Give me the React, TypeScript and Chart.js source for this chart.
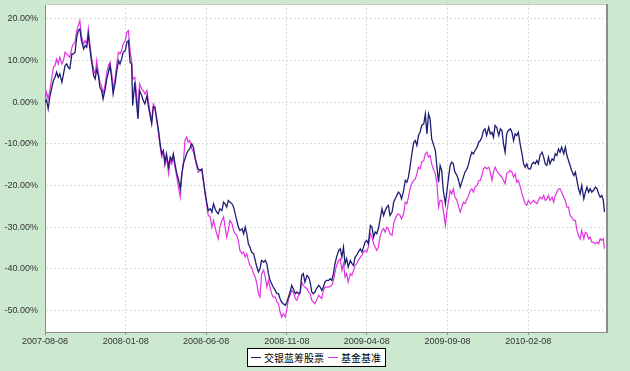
import React, { useEffect, useRef } from "react";
import { Chart, registerables } from "chart.js";

Chart.register(...registerables);

const seriesNames = ["交银蓝筹股票", "基金基准"];
const tickLabels = ["2007-08-08", "2008-01-08", "2008-06-08", "2008-11-08", "2009-04-08", "2009-09-08", "2010-02-08"];
const yTicks = [20, 10, 0, -10, -20, -30, -40, -50];

// days since 2007-08-08
const days = [
  0, 3, 6, 9, 13, 16, 19, 22, 25, 28, 32, 35, 38, 41, 44, 47, 51, 54, 57, 60, 63, 66, 69, 73, 76, 79, 82, 85, 88, 92,
  95, 98, 101, 104, 107, 110, 114, 117, 120, 123, 126, 129, 133, 136, 139, 142, 145, 148, 152, 155, 158, 161, 164,
  166, 170, 174, 176, 179, 183, 186, 189, 193, 196, 199, 202, 205, 208, 211, 215, 218, 221, 224, 227, 230, 234, 237,
  240, 243, 246, 249, 253, 256, 259, 262, 265, 268, 271, 274,
  278, 281, 284, 287, 290, 294, 297, 300, 303, 306, 309, 313, 316, 319, 322, 325, 328, 331, 335, 338, 341, 344, 347,
  350, 354, 357, 360, 363, 366, 369, 373, 376, 379, 382, 385, 388, 391, 395, 398, 401, 404, 407, 410, 414, 417, 420,
  423, 426, 429, 432, 436, 439, 442, 445, 448, 451, 455, 458, 461, 464, 467, 470, 474, 477, 480, 483,
  486, 489, 492, 496, 499, 502, 505, 508, 511, 514, 518, 521, 524, 527, 530, 533, 537, 540, 543, 546, 549, 552, 556,
  559, 562, 565, 568, 571, 574, 578, 581, 584, 587, 590, 593, 597, 600, 603, 606, 609, 612, 616, 619, 622, 625, 628,
  631, 634, 638, 641, 644, 647, 650, 653, 657, 660, 663, 666, 669, 672, 675, 679, 682, 685, 688, 691, 694, 698, 701,
  704, 707, 710, 713, 717, 720, 723, 726, 729, 732, 735, 739, 742, 745, 748,
  751, 754, 758, 761, 764, 767, 770, 773, 776, 780, 783, 786, 789, 792, 795, 799, 802, 805, 808, 811, 814, 818, 821,
  824, 827, 830, 833, 836, 840, 843, 846, 849, 852, 855, 859, 862, 865, 868, 871, 874, 877, 881,
  884, 887, 890, 893, 896, 900, 903, 906, 909, 912, 915, 919, 922, 925, 928, 931, 934, 937, 941, 944, 947, 950, 953,
  956, 960, 963, 966, 969, 972, 975, 978, 982, 985, 988, 991, 994, 997, 1001, 1004, 1007, 1010, 1013, 1016, 1020,
  1023, 1026, 1029, 1032, 1035, 1038, 1042, 1045, 1048, 1051, 1054, 1057, 1059,
];

const fundValues = [
  0, 0.5, -1.6, 1.2, 3.6, 5.2, 6, 7.2, 6, 6.8, 4.8, 6.8, 8.8, 9.2, 8.4, 8, 11.6, 11.6, 12, 15.6, 17.2, 17.6, 14.8,
  12.8, 13.6, 13.2, 16.4, 12.8, 10, 6.4, 5.6, 8, 6.4, 3.6, 2.8, 0.8, 3.2, 5.6, 7.2, 8.8, 6, 2, 4.8, 7.6, 10, 9.2,
  10.4, 12, 12.4, 14.4, 14.8, 9.6, 9.2, -0.8, 4.8, -1.2, -4, 2.8, 1.6, 0.4, -0.4, 1.6, -1.2, -3.2, -5.2, -1.2, -1.2,
  -3.6, -6.8, -10, -12.4, -11.6, -14.4, -12.4, -15.6, -13.2, -14, -12.4, -14.8, -16.8, -18.8, -20.8, -17.2, -14.8,
  -13.6, -12.4, -11.6, -11.2,
  -10, -10.8, -13.2, -14.8, -16, -16.4, -16, -18.8, -21.6, -24, -26, -25.6, -26.4, -24.4, -25.6, -26.4, -26.8, -25.6,
  -26, -24, -24.4, -25.2, -23.6, -24, -24.4, -25.2, -26.8, -28.4, -30, -30.8, -30.4, -31.6, -30, -31.6, -34, -34.8,
  -36, -36.4, -38, -39.6, -40.8, -40, -38, -38.4, -38, -38.8, -41.2, -42.8, -43.6, -44.4, -45.2, -46, -46, -47.2,
  -48, -48.4, -48.8, -48, -46.8, -45.6, -44, -44.8, -46, -45.6, -46, -45.6,
  -41.6, -41.2, -43.2, -41.6, -42, -43.2, -45.6, -46, -45.6, -44.8, -44, -44.4, -45.2, -44.4, -43.2, -42.8, -42.8,
  -42.4, -42.8, -41.2, -38.8, -37.2, -35.6, -35.2, -37.2, -34.8, -38.8, -37.6, -39.6, -38, -38.8, -39.2, -37.2,
  -36.8, -36, -35.2, -36, -34.8, -33.6, -33.2, -34, -29.6, -30, -32.4, -31.2, -31.6, -30.4, -28.4, -25.6, -27.2,
  -26, -25.2, -24.8, -27.2, -26.4, -24, -23.2, -22.4, -21.6, -22, -23.2, -21.2, -18.8, -19.2, -18, -15.6, -12.8,
  -9.6, -9.2, -10.4, -8, -7.2, -5.6, -5.2, -2.8, -7.6, -2.8, -4, -8.8, -10, -11.6, -15.6, -19.2, -15.2,
  -16.4, -21.2, -24.4, -21.2, -18, -15.2, -14.4, -14.8, -16.8, -17.6, -18.8, -20.4, -19.2, -18, -16.8, -16, -14.8,
  -13.2, -12, -12.4, -11.6, -10.8, -9.6, -9.2, -8.4, -6.8, -6.4, -8, -6, -7.6, -7.2, -8.4, -5.6, -6, -8, -6.4, -6.8,
  -10, -12, -7.6, -6.8, -6.4,
  -7.2, -9.2, -7.6, -8, -7.2, -10.4, -12.4, -14.8, -15.6, -14.8, -16, -16, -14.8, -14.4, -14.8, -14, -14.8, -12.8,
  -12, -13.2, -14.8, -15.2, -13.2, -14.8, -13.6, -14, -12.4, -12.8, -11.2, -12, -10.8, -12.4, -10.8, -12.8, -14,
  -15.2, -16.4, -17.6, -16.8, -18.8, -20.8, -22, -20, -23.2, -21.6, -20.4, -21.6, -20.8, -21.6, -21.2, -20.4, -20.8,
  -22, -22.8, -22.4, -23.6, -26.4,
];

const benchmarkValues = [
  0, 2.4, 0.8, 2.8, 6, 8.4, 8.8, 10.4, 9.2, 10.8, 9.2, 10, 12, 11.6, 11.2, 10.8, 13.2, 14, 14.4, 17.2, 18.4, 19.6, 16,
  14, 14.8, 14, 17.6, 14, 10.8, 8, 6.8, 10, 7.2, 4.8, 4, 2, 4.4, 7.2, 8.8, 9.6, 7.2, 3.2, 6, 9.2, 12, 11.6, 12.4, 14,
  14.8, 16.8, 17.2, 12.4, 10, 5.5, 6, 1.2, -2, 4.4, 3.2, 2.8, 2, 2.8, 0, -2.4, -4.4, -0.4, -1.2, -4, -7.6, -10.8,
  -13.2, -12, -15.2, -13.2, -17.2, -14, -14.8, -13.2, -15.6, -17.6, -20.8, -22.8, -17.6, -14.4, -9.2, -8.4, -9.6, -9.2,
  -11.2, -12, -13.6, -15.2, -16.8, -16.4, -16.4, -19.2, -22, -24.4, -27.2, -27.6, -30, -28.4, -30, -31.6, -32.8, -30,
  -28.4, -27.6, -30, -32.4, -30.8, -28.4, -29.2, -30.8, -31.6, -32, -33.2, -35.6, -36.4, -36, -37.2, -36.4, -38,
  -39.2, -39.6, -41.2, -42, -43.6, -46, -46.8, -41.2, -40.4, -42, -44.4, -42.8, -44.4, -46, -46.8, -46.8, -48, -48.4,
  -50.4, -51.6, -50.8, -51.6, -49.6, -47.2, -46.4, -45.2, -45.6, -47.2, -47.6, -46.4, -46,
  -43.2, -44, -44.4, -44.8, -45.6, -46, -47.6, -48, -48.4, -47.6, -46.4, -46.8, -47.2, -45.2, -44.4, -44.4, -44.4,
  -44.2, -44, -42.8, -40.8, -39.2, -38, -37.6, -40.4, -38.8, -42, -41.2, -43.2, -41.2, -41.6, -40.4, -39.2, -38.8,
  -38, -37.2, -36.8, -36, -35.6, -36, -34.8, -31.6, -32.4, -34, -34.8, -35.6, -34.8, -32.4, -30.8, -30.4, -31.2, -30,
  -30.4, -31.6, -32, -29.2, -28, -27.2, -26.8, -27.2, -28, -26.8, -24, -24.4, -22.8, -20.8, -19.6, -18.8, -18.4,
  -17.2, -15.6, -16, -14.4, -14, -12.4, -12, -13.2, -12.8, -14.8, -16, -17.2, -19.6, -25.2, -23.6,
  -23.6, -26, -29.6, -26, -23.6, -21.2, -22, -20.8, -22.8, -23.6, -25.2, -26.4, -25.2, -24, -24.4, -23.2, -22.4,
  -21.2, -20.8, -21.6, -20.4, -20, -18.8, -18.8, -17.6, -16, -15.6, -16, -15.6, -16.8, -18.8, -16.8, -15.6, -16.4,
  -17.2, -17.6, -18, -18.8, -19.6, -17.2, -16.8, -16.4,
  -16.8, -18, -17.2, -19.2, -18.8, -20.4, -22, -23.2, -24.4, -24.8, -23.6, -24.4, -24, -23.6, -24, -24.4, -23.6,
  -22.8, -23.2, -22.4, -23.6, -23.2, -22.4, -23.6, -22.8, -24, -22.4, -21.6, -20.8, -20.8, -21.6, -22.8, -23.6,
  -25.2, -25.2, -27.2, -27.6, -28.4, -28.4, -30.8, -32, -32.8, -30.8, -32.8, -31.2, -31.6, -32.8, -32.4, -33.6,
  -33.6, -34, -33.6, -34, -32.8, -33.2, -32.8, -35.2,
];

const seriesColors = ["#1e1e72", "#e233e2"];

const dayOf = (s: string) =>
  (Date.UTC(+s.slice(0, 4), +s.slice(5, 7) - 1, +s.slice(8, 10)) - Date.UTC(2007, 7, 8)) / 86400000;

const GREEN = "#cce8cf";

const framePlugin = {
  id: "frame",
  beforeDraw(chart: any) {
    const { ctx, chartArea: a, width, height } = chart;
    ctx.save();
    ctx.fillStyle = GREEN;
    ctx.fillRect(0, 0, width, height);
    ctx.fillStyle = "#ffffff";
    ctx.fillRect(a.left, a.top, a.right - a.left, a.bottom - a.top);
    ctx.restore();
  },
  afterDraw(chart: any) {
    const { ctx, chartArea: a } = chart;
    ctx.save();
    ctx.strokeStyle = "#c8c8c8";
    ctx.lineWidth = 1;
    ctx.beginPath();
    ctx.moveTo(a.left, a.top + 0.5);
    ctx.lineTo(a.right, a.top + 0.5);
    ctx.stroke();
    ctx.strokeStyle = "#8c8c8c";
    ctx.lineWidth = 2;
    ctx.beginPath();
    ctx.moveTo(a.right + 1, a.top);
    ctx.lineTo(a.right + 1, a.bottom + 1);
    ctx.stroke();
    ctx.restore();
  },
};

export default function App() {
  const ref = useRef<HTMLCanvasElement | null>(null);

  useEffect(() => {
    if (!ref.current) return;
    const mk = (vals: number[]) => {
      const n = Math.min(days.length, vals.length);
      const out: { x: number; y: number }[] = [];
      for (let i = 0; i < n; i++) out.push({ x: days[i], y: vals[i] });
      return out;
    };
    const tickFont = { family: "'Liberation Sans', Arial, sans-serif", size: 9 };
    const chart = new Chart(ref.current, {
      type: "line",
      data: {
        datasets: [
          {
            label: seriesNames[0],
            data: mk(fundValues),
            borderColor: seriesColors[0],
            backgroundColor: seriesColors[0],
            borderWidth: 1.3,
            pointRadius: 0,
            tension: 0,
          },
          {
            label: seriesNames[1],
            data: mk(benchmarkValues),
            borderColor: seriesColors[1],
            backgroundColor: seriesColors[1],
            borderWidth: 1.2,
            pointRadius: 0,
            tension: 0,
          },
        ],
      },
      options: {
        animation: false,
        responsive: false,
        devicePixelRatio: 1,
        layout: { padding: { top: 4, right: 24, left: 0, bottom: 0 } },
        plugins: { legend: { display: false }, tooltip: { enabled: false } },
        scales: {
          x: {
            type: "linear",
            min: 0,
            max: 1062,
            afterBuildTicks: (s: any) => {
              s.ticks = tickLabels.map((l) => ({ value: dayOf(l) }));
            },
            afterFit: (s: any) => {
              s.height = 39;
              s.paddingLeft = 0;
              s.paddingRight = 0;
            },
            ticks: {
              autoSkip: false,
              maxRotation: 0,
              padding: 1,
              color: "#333333",
              font: tickFont,
              callback: (v: any) => {
                const l = tickLabels.find((t) => dayOf(t) === v);
                return l ?? "";
              },
            },
            grid: {
              color: "#d9d9d9",
              tickLength: 3,
              tickColor: "#8c8c8c",
              tickBorderDash: [],
            },
            border: { display: true, color: "#8c8c8c", width: 1, dash: [2, 2] },
          },
          y: {
            type: "linear",
            min: -55.2,
            max: 23.6,
            afterBuildTicks: (s: any) => {
              s.ticks = yTicks.map((v) => ({ value: v }));
            },
            afterFit: (s: any) => {
              s.width = 45;
              s.paddingTop = 0;
              s.paddingBottom = 0;
            },
            ticks: {
              padding: 7,
              color: "#333333",
              font: tickFont,
              callback: (v: any) => `${Number(v).toFixed(2)}%`,
            },
            grid: { color: "#d9d9d9", drawTicks: false },
            border: { display: true, color: "#8c8c8c", width: 1, dash: [2, 2] },
          },
        },
      },
      plugins: [framePlugin],
    } as any);
    return () => chart.destroy();
  }, []);

  const legendItem = (name: string, color: string) => (
    <span style={{ display: "inline-flex", alignItems: "center", marginRight: 4 }}>
      <span
        style={{
          display: "inline-block",
          width: 10,
          height: 0,
          borderTop: `1.5px solid ${color}`,
          marginRight: 3,
        }}
      />
      <span>{name}</span>
    </span>
  );

  return (
    <div
      style={{
        position: "fixed",
        left: 0,
        top: 0,
        width: 630,
        height: 371,
        background: GREEN,
        overflow: "hidden",
      }}
    >
      <canvas ref={ref} width={630} height={371} style={{ display: "block", width: 630, height: 371 }} />
      <div
        style={{
          position: "absolute",
          left: 247,
          top: 348,
          height: 17,
          display: "flex",
          alignItems: "center",
          border: "1px solid #000",
          background: "#ffffff",
          padding: "0 0 0 3px",
          fontFamily: "'Noto Sans CJK SC', sans-serif",
          fontSize: 10,
          color: "#000",
          lineHeight: "17px",
          whiteSpace: "nowrap",
        }}
      >
        {legendItem(seriesNames[0], seriesColors[0])}
        {legendItem(seriesNames[1], seriesColors[1])}
      </div>
    </div>
  );
}
